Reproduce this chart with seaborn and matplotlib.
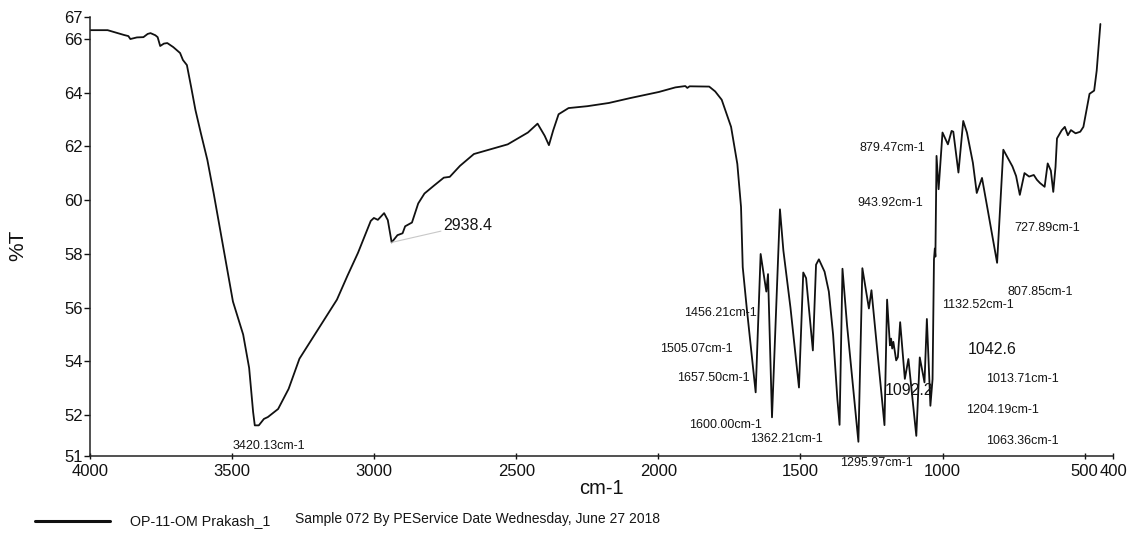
import numpy as np
import pandas as pd
import matplotlib
matplotlib.use("Agg")
import matplotlib.pyplot as plt
from matplotlib.lines import Line2D
import seaborn as sns

# ---- FTIR spectrum: wavenumber (cm-1) and transmittance (%T) ----
# O-H / C-H stretching region
wn_high = [4000, 3938, 3903, 3880, 3865, 3858, 3835, 3812, 3797, 3787, 3770, 3762,
           3753, 3740, 3728, 3707, 3683, 3673, 3659, 3644, 3629, 3610, 3587, 3565,
           3497, 3461, 3440, 3426, 3420.13, 3406, 3388, 3374, 3338, 3301, 3263,
           3131, 3094, 3057, 3012, 3001, 2987, 2965, 2952, 2938.4, 2918, 2900,
           2891, 2867, 2845, 2823, 2790, 2755, 2734, 2698, 2649]
t_high = [66.33, 66.33, 66.22, 66.15, 66.11, 66.00, 66.06, 66.07, 66.19, 66.22, 66.14, 66.07,
          65.74, 65.83, 65.85, 65.70, 65.48, 65.22, 65.03, 64.21, 63.36, 62.50, 61.50, 60.27,
          56.23, 55.00, 53.76, 52.12, 51.62, 51.62, 51.86, 51.93, 52.23, 52.98, 54.10,
          56.30, 57.19, 58.04, 59.23, 59.34, 59.27, 59.52, 59.26, 58.43, 58.70, 58.77,
          59.03, 59.17, 59.88, 60.25, 60.54, 60.84, 60.87, 61.28, 61.72]

# 2600 - 1700 cm-1
wn_mid = [2530, 2459, 2425, 2400, 2385, 2370, 2351, 2316, 2250, 2174, 2100, 1998,
          1940, 1905, 1898, 1890, 1821, 1800, 1777, 1744, 1722, 1709, 1703, 1689]
t_mid = [62.08, 62.52, 62.85, 62.40, 62.05, 62.60, 63.20, 63.43, 63.50, 63.62, 63.80, 64.03,
         64.20, 64.25, 64.18, 64.24, 64.23, 64.05, 63.74, 62.73, 61.35, 59.75, 57.51, 56.00]

# fingerprint region
wn_fp = [1657.5, 1640, 1625, 1620, 1614, 1600, 1572, 1560, 1535, 1505.07, 1490, 1480,
         1465, 1456.21, 1445, 1435, 1415, 1400, 1385, 1370, 1362.21, 1352, 1336,
         1295.97, 1282, 1259, 1250, 1204.19, 1195, 1185, 1181, 1177, 1173, 1163,
         1157, 1149, 1132.52, 1120, 1092.2, 1080, 1063.36, 1055, 1042.6, 1035, 1030,
         1027, 1025, 1021, 1013.71, 1000, 981, 968, 962, 943.92, 927, 914, 893,
         879.47, 861, 841, 807.85, 786, 754, 741, 727.89, 711.5, 695.2, 678.8,
         667.7, 656.9, 640.6, 629.8, 618.7, 610.2, 602.3, 597.1, 580.7, 569.6,
         558.8, 548.0, 531.7, 515.3, 504.2, 493.4, 482.6, 466.3, 457.4, 449.9, 444.4]
t_fp = [52.85, 58.00, 56.95, 56.60, 57.25, 51.92, 59.66, 58.13, 56.00, 53.03, 57.31, 57.10,
        55.38, 54.41, 57.60, 57.80, 57.34, 56.60, 55.00, 52.60, 51.64, 57.45, 55.36,
        51.01, 57.47, 55.97, 56.65, 51.63, 56.30, 54.60, 54.85, 54.48, 54.73, 54.04,
        54.16, 55.46, 53.35, 54.09, 51.23, 54.15, 53.22, 55.58, 52.35, 53.34, 57.80,
        58.20, 57.90, 61.65, 60.41, 62.52, 62.08, 62.58, 62.55, 61.03, 62.95, 62.52, 61.39,
        60.27, 60.83, 59.65, 57.67, 61.88, 61.26, 60.90, 60.20, 61.01, 60.88, 60.94,
        60.76, 60.64, 60.50, 61.37, 61.10, 60.31, 61.24, 62.30, 62.60, 62.73,
        62.42, 62.61, 62.49, 62.55, 62.73, 63.34, 63.96, 64.08, 64.82, 65.81, 66.56]

# axis ticks
x_ticks = [4000, 3500, 3000, 2500, 2000, 1500, 1000, 500, 400]
y_ticks = [50.48, 52, 54, 56, 58, 60, 62, 64, 66, 66.82]
y_tick_labels = ["51", "52", "54", "56", "58", "60", "62", "64", "66", "67"]

# peak annotations: text, and where each one is written
peak_texts = ["3420.13cm-1", "2938.4", "879.47cm-1", "943.92cm-1", "727.89cm-1",
              "807.85cm-1", "1132.52cm-1", "1456.21cm-1", "1505.07cm-1", "1042.6",
              "1657.50cm-1", "1013.71cm-1", "1092.2", "1204.19cm-1", "1600.00cm-1",
              "1362.21cm-1", "1063.36cm-1", "1295.97cm-1"]
text_pos = [(3372, 50.85), (2672, 59.05), (1175, 61.95), (1185, 59.90), (633, 58.95),
            (657, 56.60), (876, 56.10), (1780, 55.80), (1865, 54.45), (825, 54.45),
            (1805, 53.40), (720, 53.35), (1118, 52.90), (788, 52.20), (1764, 51.62),
            (1550, 51.10), (718, 51.05), (1234, 50.22)]
large_texts = {"2938.4", "1042.6", "1092.2"}

sample_name = "OP-11-OM Prakash_1"
sample_info = "Sample 072 By PEService Date Wednesday, June 27 2018"

spectrum = pd.DataFrame({
    "wavenumber": wn_high + wn_mid + wn_fp,
    "transmittance": t_high + t_mid + t_fp,
})

sns.set_style("ticks")
plt.rcParams["font.family"] = ["Liberation Sans", "DejaVu Sans"]

W, H = 1129, 535
fig = plt.figure(figsize=(W / 100, H / 100), dpi=100)
ax = fig.add_axes([90 / W, 1 - 456 / H, (1113 - 90) / W, (456 - 17) / H])

sns.lineplot(data=spectrum, x="wavenumber", y="transmittance", sort=False,
             estimator=None, color="#111111", linewidth=1.3, ax=ax)

ax.set_xlim(4000, 400)
ax.set_ylim(y_ticks[0], y_ticks[-1])
ax.set_xticks(x_ticks)
ax.set_xticklabels([str(t) for t in x_ticks])
ax.set_yticks(y_ticks)
ax.set_yticklabels(y_tick_labels)
ax.tick_params(axis="x", direction="inout", length=5, width=1, labelsize=12, pad=3.5,
               colors="#111111")
ax.tick_params(axis="y", direction="out", length=4, width=1, labelsize=12, pad=1,
               colors="#111111")
# the lowest y label sits slightly above the corner
ax.get_yticklabels()[0].set_verticalalignment("center_baseline")
sns.despine(ax=ax)
for s in ("left", "bottom"):
    ax.spines[s].set_linewidth(1.1)
    ax.spines[s].set_color("#222222")

ax.set_xlabel("cm-1", fontsize=14.5, labelpad=0, color="#111111")
ax.set_ylabel("%T", fontsize=15, color="#111111")
ax.yaxis.set_label_coords(-0.0616, 0.48)

# leader line from the 2938.4 band to its label
dip_t = spectrum.loc[spectrum["wavenumber"] == 2938.4, "transmittance"].iloc[0]
ax.plot([2938.4, 2765], [dip_t, 58.85], color="#c8c8c8", linewidth=0.8)

for txt, (px, py) in zip(peak_texts, text_pos):
    ax.text(px, py, txt, ha="center", va="center",
            fontsize=11.5 if txt in large_texts else 9, color="#151515")

# footer with the sample legend line
fig.add_artist(Line2D([35 / W, 110 / W], [1 - 521 / H, 1 - 521 / H],
                      color="#111111", linewidth=2.2))
fig.text(130 / W, 1 - 521 / H, sample_name, ha="left", va="center", fontsize=10.3,
         color="#151515")
fig.text(295 / W, 1 - 519 / H, sample_info, ha="left", va="center", fontsize=10,
         color="#151515")

fig.savefig("out.png", dpi=100, facecolor="white")
